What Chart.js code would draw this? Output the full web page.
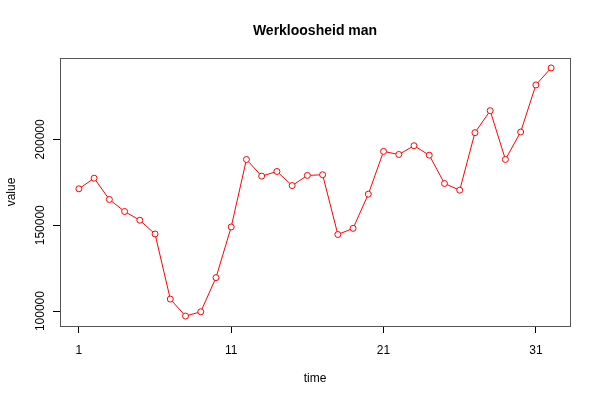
<!DOCTYPE html>
<html>
<head>
<meta charset="utf-8">
<script src="https://cdn.jsdelivr.net/npm/chart.js@4/dist/chart.umd.min.js"></script>
<style>
  body { margin: 0; background: #fff; }
  #wrap { width: 600px; height: 400px; }
</style>
</head>
<body>
<div id="wrap"><canvas id="myChart"></canvas></div>
<script>
var timeIdx = [];
for (var i = 1; i <= 32; i++) timeIdx.push(i);

var values = [171200, 177400, 165000, 158000, 152900, 144900, 107000, 97100,
              99600, 119500, 149000, 188300, 178600, 181300, 173100, 179000,
              179400, 144600, 148200, 168100, 193000, 191200, 196300, 190800,
              174300, 170400, 203900, 216700, 188300, 204300, 231700, 241600];

var xTicks = [1, 11, 21, 31];
var yTicks = [100000, 150000, 200000];
var mainTitle = 'Werkloosheid man';

var points = timeIdx.map(function (t, k) { return { x: t, y: values[k] }; });

var fontFam = '"Liberation Sans", Arial, sans-serif';

// box round the plot area (like R's box()) and the title centred over it
var boxPlugin = {
    id: 'box',
    afterDraw: function (chart) {
        var a = chart.chartArea;
        var ctx = chart.ctx;
        ctx.save();
        ctx.strokeStyle = '#555';
        ctx.lineWidth = 1;
        ctx.strokeRect(a.left + 0.5, a.top + 0.5, a.right - a.left, a.bottom - a.top);
        ctx.fillStyle = '#000';
        ctx.font = 'bold 14px ' + fontFam;
        ctx.textAlign = 'center';
        ctx.textBaseline = 'middle';
        ctx.fillText(mainTitle, (a.left + a.right) / 2, 31);
        ctx.restore();
    }
};

var ctx = document.getElementById('myChart').getContext('2d');
var myChart = new Chart(ctx, {
    type: 'line',
    data: {
        datasets: [{
            data: points,
            borderColor: '#ff0000',
            borderWidth: 1,
            pointBackgroundColor: '#ffffff',
            pointBorderColor: '#ff0000',
            pointBorderWidth: 1,
            pointRadius: 3,
            tension: 0
        }]
    },
    options: {
        responsive: true,
        maintainAspectRatio: false,
        animation: false,
        layout: { padding: { top: 58, right: 30, bottom: 0, left: 0 } },
        plugins: {
            legend: { display: false },
            tooltip: { enabled: false },
            title: { display: false }
        },
        scales: {
            x: {
                type: 'linear',
                min: -0.24,
                max: 33.24,
                afterBuildTicks: function (s) {
                    s.ticks = xTicks.map(function (v) { return { value: v }; });
                },
                afterFit: function (s) { s.height = 74; },
                grid: { drawOnChartArea: false, color: '#000', tickLength: 7 },
                border: { display: false },
                ticks: {
                    color: '#000',
                    padding: 10,
                    maxRotation: 0,
                    font: { family: fontFam, size: 12 }
                },
                title: {
                    display: true,
                    text: 'time',
                    color: '#000',
                    font: { family: fontFam, size: 12 },
                    padding: { top: 0, bottom: 14 }
                }
            },
            y: {
                min: 91320,
                max: 247380,
                afterBuildTicks: function (s) {
                    s.ticks = yTicks.map(function (v) { return { value: v }; });
                },
                afterFit: function (s) { s.width = 60; },
                grid: { drawOnChartArea: false, color: '#000', tickLength: 7 },
                border: { display: false },
                ticks: {
                    color: '#000',
                    padding: -8,
                    crossAlign: 'center',
                    minRotation: 90,
                    maxRotation: 90,
                    font: { family: fontFam, size: 12 },
                    callback: function (v) { return String(v); }
                },
                title: {
                    display: true,
                    text: 'value',
                    color: '#000',
                    font: { family: fontFam, size: 12 },
                    padding: { top: 4, bottom: 0 }
                }
            }
        }
    },
    plugins: [boxPlugin]
});
</script>
</body>
</html>
